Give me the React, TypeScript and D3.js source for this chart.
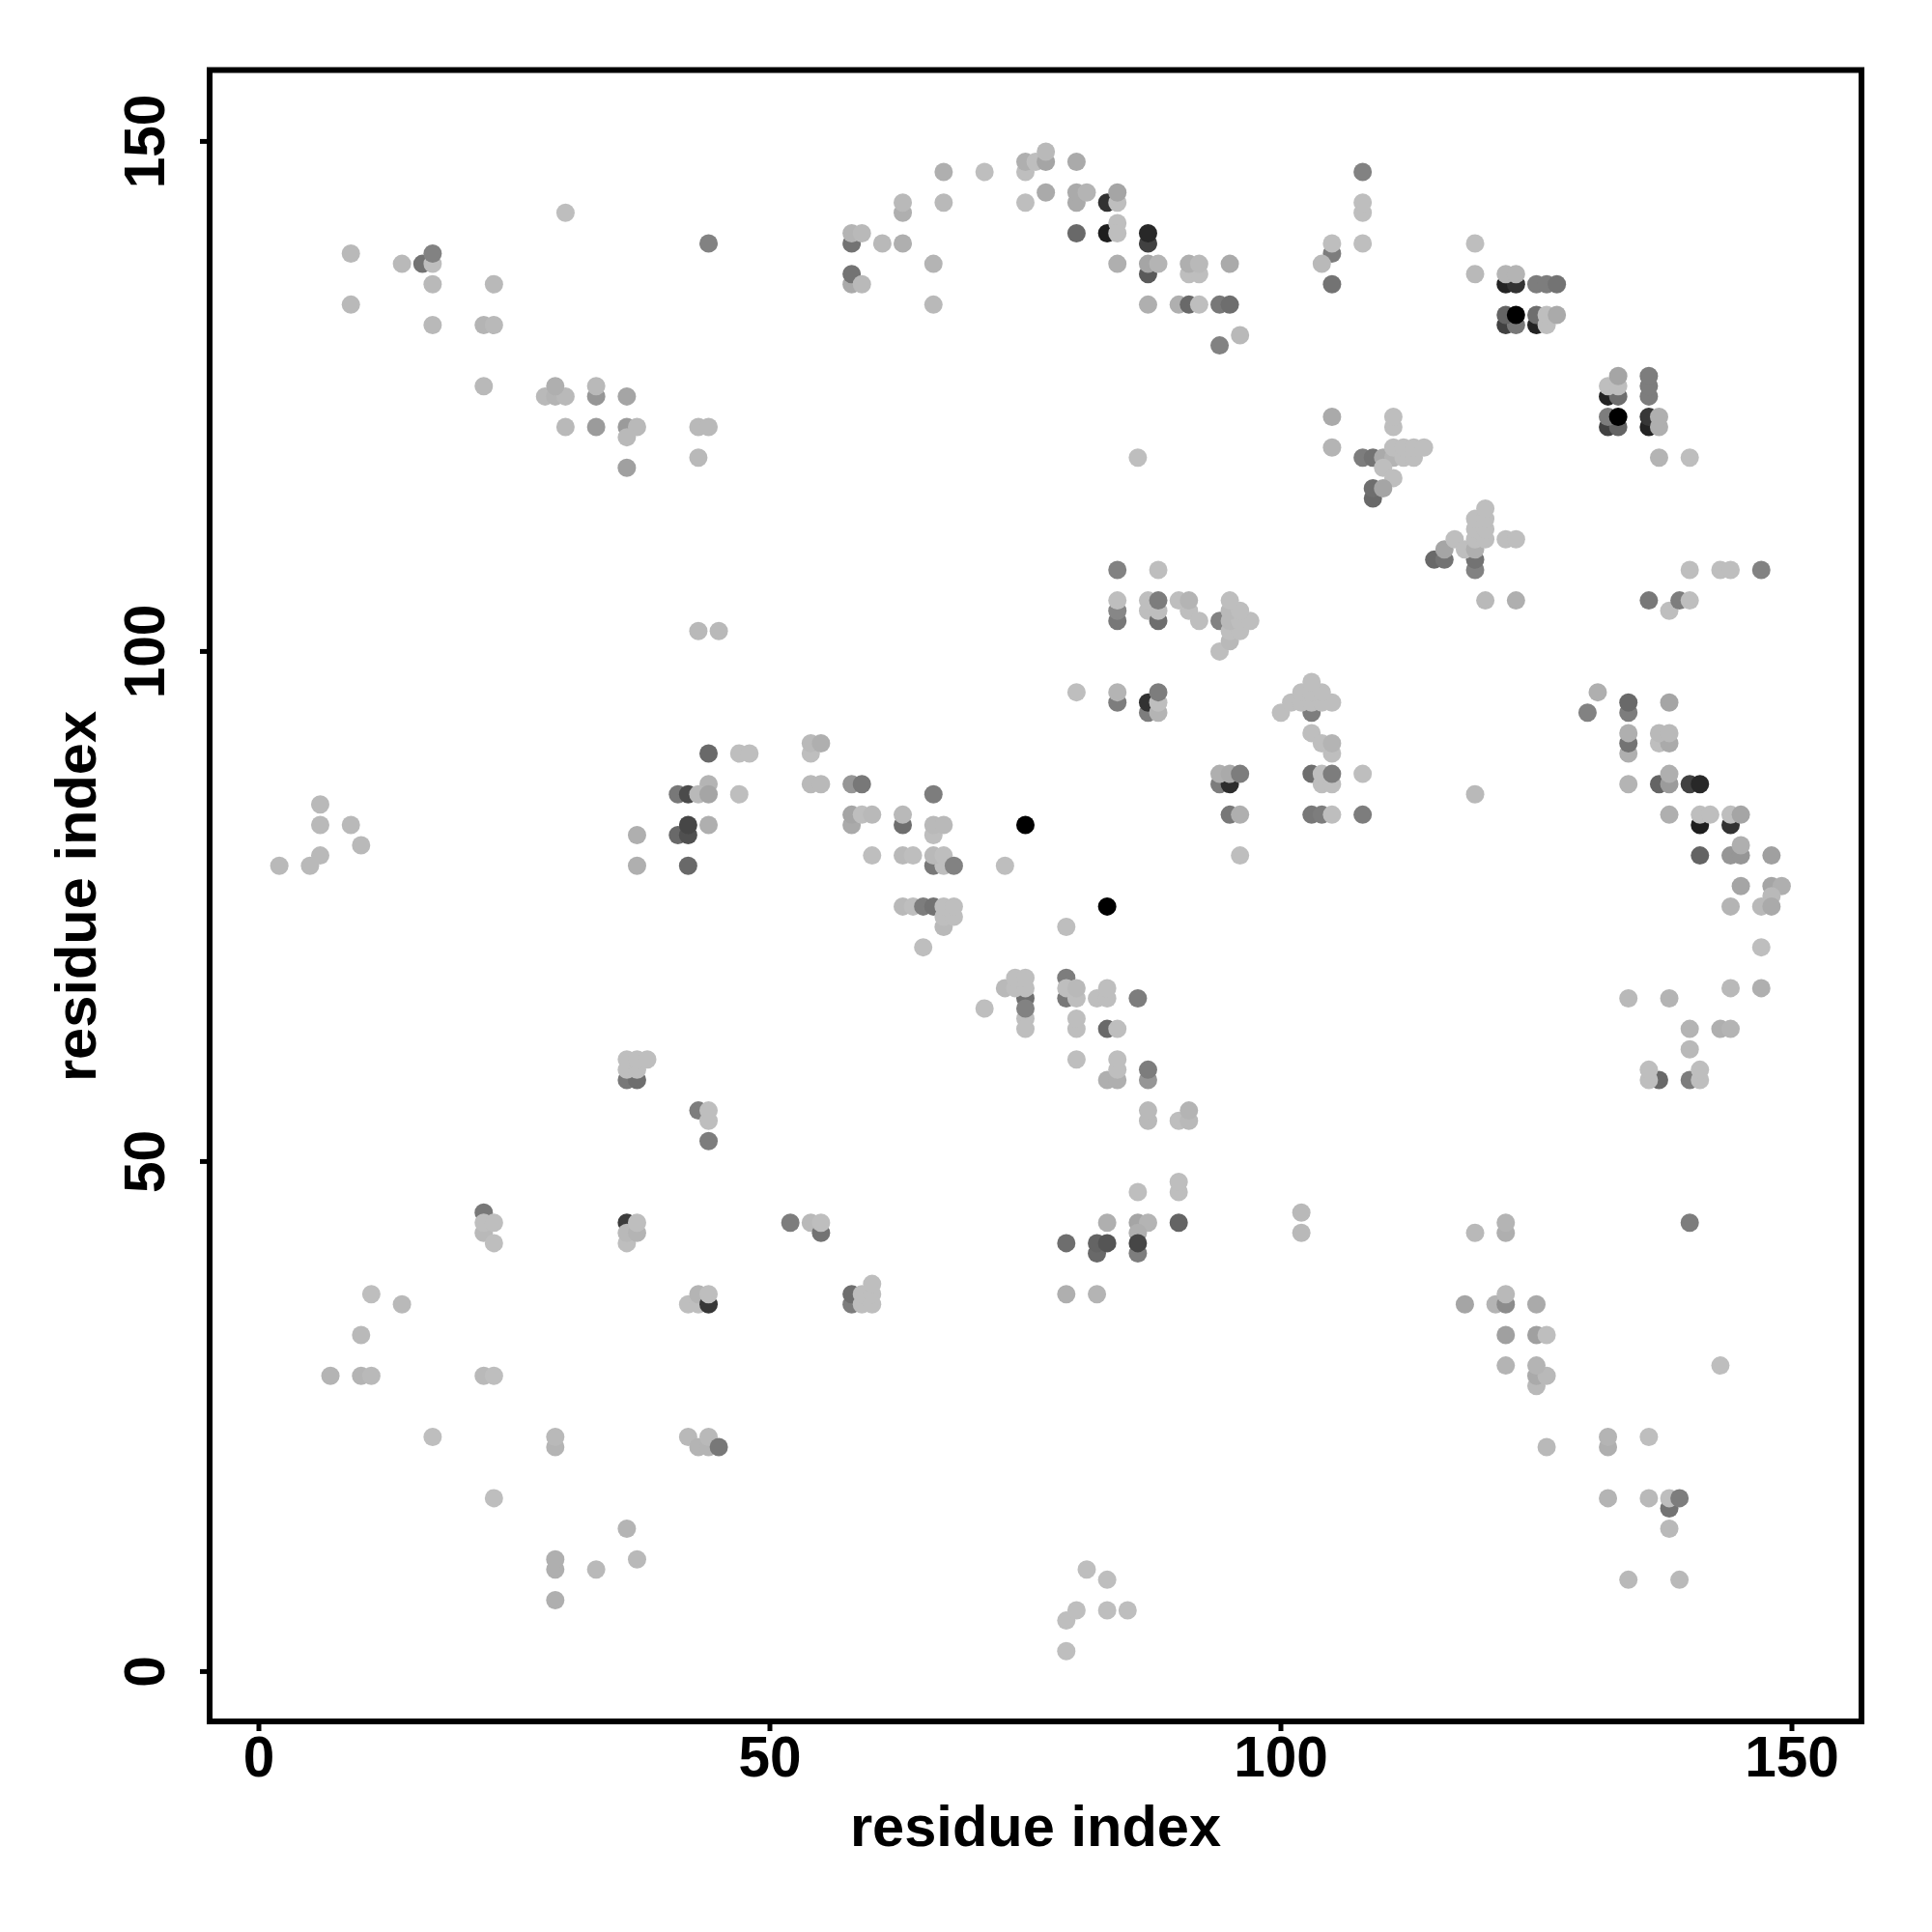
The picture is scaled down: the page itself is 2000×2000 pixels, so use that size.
import React from "react";
import * as d3 from "d3";

type P = [number, number, number];

const axisTicks = [0, 50, 100, 150];
const xAxisLabel = "residue index";
const yAxisLabel = "residue index";

// [residue i, residue j, gray level]
const topLeft: P[] = [
  [30,143,190],[44,140,130],[9,139,185],[9,134,185],[14,138,185],[16,138,115],[17,138,190],[17,139,130],
  [17,136,185],[23,136,185],[17,132,185],[22,132,180],[23,132,185],[22,126,185],[28,125,185],[29,125,180],[30,125,185],[29,126,175],
  [33,125,150],[33,126,185],[36,125,165],[30,122,185],[33,122,155],[36,122,155],[37,122,185],[36,121,185],
  [36,118,160],[43,122,185],[44,122,185],[43,119,185],[43,102,185],[45,102,185],
];
const topMiddle: P[] = [
  [67,147,175],[71,147,190],[63,143,175],[63,144,185],[67,144,185],[58,140,115],[58,141,180],[59,141,185],
  [61,140,185],[63,140,175],[66,138,180],[58,136,170],[58,137,115],[59,136,185],[66,134,185],
  [75,147,190],[75,148,175],[76,148,190],[77,148,165],[77,149,185],[80,148,170],[75,144,190],[77,145,170],
  [80,144,170],[80,145,170],[81,145,180],[83,144,50],[84,144,190],[84,145,165],[80,141,105],[83,141,30],
  [84,142,190],[84,141,190],[87,140,65],[87,141,40],[84,138,175],[87,137,90],[87,138,165],[88,138,180],
  [91,137,190],[92,137,190],[91,138,175],[92,138,185],[95,138,170],[87,134,175],[90,134,175],[91,134,105],
  [92,134,190],[94,134,120],[95,134,110],[96,131,185],[94,130,130],[86,119,190],
];
const topRight: P[] = [
  [108,147,130],[108,143,190],[108,144,190],[108,140,190],[105,139,125],[105,140,190],[104,138,185],[105,136,115],
  [105,123,170],[105,120,180],[111,122,190],[111,123,190],[108,119,125],[109,119,115],[110,119,170],[111,119,180],
  [112,119,190],[113,119,190],[111,120,190],[112,120,190],[113,120,190],[114,120,190],[110,118,190],[111,117,190],
  [109,115,105],[109,116,110],[110,116,165],[119,140,190],[119,137,185],[122,136,35],[123,136,50],[122,137,180],
  [123,137,180],[125,136,125],[126,136,125],[127,136,115],[122,132,65],[123,132,120],[122,133,100],[123,133,0],
  [125,132,35],[125,133,110],[126,132,190],[126,133,190],[127,133,170],
  [132,125,35],[133,125,110],[132,126,190],[133,126,190],[133,127,165],[136,125,125],[136,126,125],[136,127,125],
  [132,122,65],[133,122,100],[132,123,125],[133,123,0],[136,122,35],[136,123,55],[137,122,175],[137,123,175],
  [137,119,180],[140,119,190],
];
const centerRight: P[] = [
  [119,108,130],[119,109,115],[115,109,105],[116,109,115],[116,110,165],[117,111,190],[118,110,190],[119,110,175],
  [119,111,190],[120,111,190],[119,112,190],[120,112,190],[119,113,190],[120,113,190],[120,114,190],
  [122,111,190],[123,111,190],[140,108,190],[143,108,190],[144,108,190],[147,108,130],[120,105,185],[123,105,175],
  [136,105,120],[138,104,190],[139,105,125],[140,105,190],
];
const center: P[] = [
  [84,108,130],[88,108,190],[84,103,120],[84,104,135],[84,105,190],[87,104,190],[87,105,190],[88,103,110],
  [88,104,190],[88,105,125],[90,105,190],[91,104,190],[91,105,180],[92,103,190],[94,103,130],[94,100,190],
  [95,101,185],[95,102,190],[96,102,190],[95,103,185],[96,103,190],[97,103,190],[95,104,185],[96,104,190],[95,105,190],
  [80,96,190],[84,95,125],[84,96,180],[87,94,125],[87,95,50],[88,94,180],[88,95,190],[88,96,125],
  [103,94,125],[100,94,190],[101,95,190],[102,95,190],[103,95,190],[104,95,190],[105,95,190],[102,96,190],
  [103,96,190],[104,96,190],[103,97,190],[103,92,190],[104,91,190],[105,90,190],[105,91,180],
  [94,87,125],[95,87,45],[94,88,175],[95,88,170],[96,88,125],[103,88,110],[104,87,190],[105,87,190],[104,88,190],[105,88,125],
  [108,88,190],[95,84,120],[96,84,175],[103,84,120],[104,84,125],[105,84,190],[108,84,125],[96,80,190],[119,86,185],
];
const rightArc: P[] = [
  [131,96,175],[130,94,130],[134,94,125],[134,95,105],[138,95,165],[134,90,175],[134,91,115],[134,92,175],
  [137,91,190],[138,91,170],[137,92,185],[138,92,185],[134,87,180],[137,87,100],[138,87,155],[138,88,175],
  [140,87,65],[141,87,40],[138,84,175],[141,83,30],[141,84,190],[142,84,190],[144,83,50],[144,84,190],[145,84,165],
  [141,80,100],[144,80,150],[145,80,150],[145,81,175],[148,80,160],[145,77,165],[148,77,165],[149,77,175],
  [148,76,185],[144,75,180],[147,75,185],[148,75,170],[147,71,190],[144,67,185],[147,67,175],[134,66,185],[138,66,180],
  [140,63,180],[143,63,175],[144,63,180],[140,61,185],[137,58,105],[136,58,190],[136,59,190],[140,58,125],[141,58,190],[141,59,190],
];
const leftBand: P[] = [
  [44,90,105],[47,90,190],[48,90,190],[54,90,190],[54,91,185],[55,91,175],[54,87,185],[55,87,185],[58,87,150],[59,87,120],
  [44,87,180],[41,86,120],[42,86,75],[43,86,185],[44,86,165],[47,86,190],[66,86,125],
  [58,83,170],[58,84,165],[59,84,190],[60,84,185],[63,83,110],[63,84,185],[66,82,190],[66,83,185],[67,83,185],
  [41,82,105],[42,82,80],[42,83,70],[44,83,175],[37,82,175],[37,79,175],[42,79,105],[60,80,190],[63,80,185],[64,80,190],
  [66,79,120],[67,79,190],[66,80,185],[67,80,190],[68,79,130],[73,79,190],[75,83,0],[83,75,0],
  [63,75,185],[64,75,190],[65,75,125],[66,75,115],[67,73,185],[67,74,190],[68,74,190],[67,75,190],[68,75,190],[65,71,190],[79,73,190],
  [2,79,185],[5,79,185],[6,80,185],[6,83,185],[6,85,185],[9,83,185],[10,81,185],
];
const lowerCenter: P[] = [
  [79,68,125],[79,66,120],[79,67,190],[80,66,190],[80,67,185],[82,66,190],[83,66,190],[83,67,190],[86,66,125],
  [75,64,190],[75,63,190],[75,66,110],[75,65,130],[71,65,190],[73,67,185],[74,67,190],[75,67,190],[74,68,190],[75,68,190],
  [80,63,190],[80,64,190],[83,63,105],[84,63,190],[80,60,190],[83,58,175],[84,58,175],[84,59,190],[84,60,190],
  [87,58,150],[87,59,125],[87,54,185],[87,55,185],[90,54,190],[91,54,185],[91,55,180],
  [90,47,190],[90,48,190],[86,47,190],[83,44,175],[86,44,165],[87,44,180],[90,44,100],[86,43,175],
  [86,41,125],[86,42,70],[79,42,110],[82,41,105],[82,42,100],[83,42,85],[79,37,175],[82,37,180],[102,45,185],[102,43,185],
];
const lowerLeft: P[] = [
  [36,58,120],[37,58,110],[36,59,190],[37,59,190],[36,60,190],[37,60,190],[38,60,190],[43,55,125],[44,54,190],[44,55,190],[44,52,125],
  [22,45,120],[22,43,185],[22,44,190],[23,44,190],[23,42,190],[36,44,60],[36,42,190],[36,43,185],[37,43,180],[37,44,190],
  [42,36,190],[43,36,190],[43,37,180],[44,36,55],[44,37,190],[11,37,190],[14,36,185],[10,33,185],
  [7,29,180],[10,29,180],[11,29,185],[22,29,185],[23,29,190],[52,44,125],[54,44,185],[55,43,115],[55,44,190],
  [58,36,125],[58,37,110],[59,36,190],[59,37,190],[60,36,190],[60,37,190],[60,38,190],
  [17,23,190],[29,22,180],[29,23,185],[42,23,185],[43,22,180],[44,22,180],[44,23,185],[45,22,120],
  [23,17,190],[36,14,180],[29,10,175],[29,11,175],[33,10,185],[37,11,185],[29,7,175],
  [79,2,190],[79,5,190],[80,6,190],[83,6,190],[85,6,190],[83,9,190],[81,10,190],
];
const lowerRight: P[] = [
  [119,43,185],[122,43,175],[122,44,180],[140,44,125],[118,36,165],[121,36,180],[122,36,140],[122,37,185],[125,36,170],
  [122,33,160],[125,33,160],[126,33,190],[122,30,180],[125,28,185],[125,29,170],[126,29,185],[125,30,180],[143,30,190],
  [126,22,185],[132,22,175],[132,23,180],[136,23,190],[132,17,180],[136,17,185],[138,16,115],[138,17,190],[139,17,125],
  [138,14,185],[134,9,185],[139,9,185],
];

const contacts: P[] = [
  ...topLeft, ...topMiddle, ...topRight, ...centerRight, ...center,
  ...rightArc, ...leftBand, ...lowerCenter, ...lowerLeft, ...lowerRight,
];

const box = { left: 217, right: 1927, top: 72.5, bottom: 1782 };
const x = d3.scaleLinear().domain([0, 150]).range([268, 1855]);
const y = d3.scaleLinear().domain([0, 150]).range([1730.4, 146.4]);
const font = "'Liberation Sans', Arial, sans-serif";
const tickFontSize = 58.5;
const labelFontSize = 59.6;

export default function App() {
  return (
    <svg
      width={2000}
      height={2000}
      viewBox="0 0 2000 2000"
      style={{ position: "absolute", left: 0, top: 0, background: "#fff" }}
      fontFamily={font}
      fontWeight="bold"
      fontSize={tickFontSize}
    >
      {contacts.map(([i, j, g], k) => (
        <circle key={k} cx={x(i)} cy={y(j)} r={9.5} fill={d3.rgb(g, g, g).formatHex()} />
      ))}
      <rect
        x={box.left}
        y={box.top}
        width={box.right - box.left}
        height={box.bottom - box.top}
        fill="none"
        stroke="#000"
        strokeWidth={6}
      />
      {axisTicks.map((t) => (
        <g key={`x${t}`}>
          <line x1={x(t)} x2={x(t)} y1={box.bottom} y2={box.bottom + 10} stroke="#000" strokeWidth={5} />
          <text x={x(t)} y={1839} textAnchor="middle">{t}</text>
        </g>
      ))}
      {axisTicks.map((t) => (
        <g key={`y${t}`}>
          <line x1={box.left - 10} x2={box.left} y1={y(t)} y2={y(t)} stroke="#000" strokeWidth={5} />
          <text transform={`translate(170,${y(t)}) rotate(-90)`} textAnchor="middle">{t}</text>
        </g>
      ))}
      <text x={1072} y={1911} textAnchor="middle" fontSize={labelFontSize}>{xAxisLabel}</text>
      <text transform={`translate(99,928) rotate(-90)`} textAnchor="middle" fontSize={labelFontSize}>{yAxisLabel}</text>
    </svg>
  );
}
